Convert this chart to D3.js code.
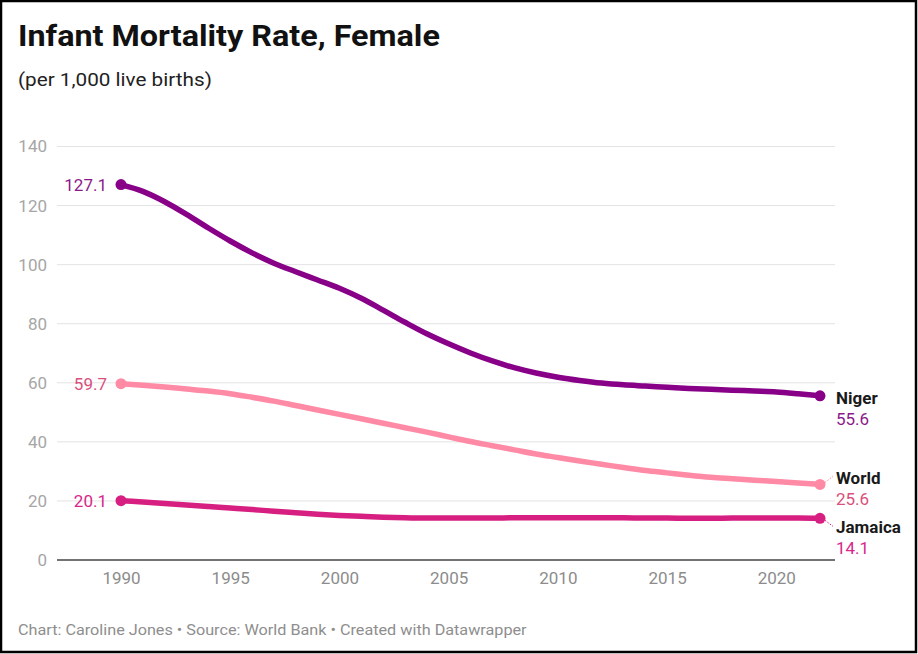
<!DOCTYPE html>
<html>
<head>
<meta charset="utf-8">
<script src="https://cdn.jsdelivr.net/npm/d3@7"></script>
<style>
  html, body { margin: 0; padding: 0; background: #fff; }
  svg { display: block; font-family: Roboto, "Noto Sans", sans-serif; }
</style>
</head>
<body>
<svg id="chart" width="918" height="654"></svg>
<script>
// Female infant mortality rate per 1,000 live births, World Bank
const years = d3.range(1990, 2023);
const niger = [127.1, 124.8, 121.3, 117.0, 112.4, 108.0, 104.0, 100.5, 97.6, 94.8,
  92.0, 88.6, 84.6, 80.5, 76.6, 73.2, 70.1, 67.4, 65.1, 63.3,
  61.9, 60.8, 59.9, 59.3, 58.9, 58.5, 58.1, 57.8, 57.5, 57.2,
  56.9, 56.3, 55.6];
const world = [59.7, 59.2, 58.6, 57.9, 57.2, 56.3, 55.1, 53.8, 52.3, 50.8,
  49.3, 47.8, 46.3, 44.8, 43.3, 41.7, 40.1, 38.7, 37.3, 35.9,
  34.7, 33.5, 32.4, 31.3, 30.3, 29.5, 28.7, 28.0, 27.5, 27.0,
  26.6, 26.1, 25.6];
const jamaica = [20.1, 19.6, 19.1, 18.6, 18.1, 17.6, 17.1, 16.5, 16.0, 15.5,
  15.1, 14.8, 14.5, 14.3, 14.2, 14.2, 14.2, 14.2, 14.3, 14.3,
  14.3, 14.3, 14.3, 14.3, 14.2, 14.2, 14.1, 14.1, 14.2, 14.2,
  14.2, 14.2, 14.1];
const yTicks = [0, 20, 40, 60, 80, 100, 120, 140];
const xTicks = [1990, 1995, 2000, 2005, 2010, 2015, 2020];

const series = [
  { name: "World",   values: world,   line: "#ff8aa5", text: "#d9507c", nameDy: 0,    leader: true },
  { name: "Jamaica", values: jamaica, line: "#d61f80", text: "#d8278a", nameDy: 14.5, leader: true },
  { name: "Niger",   values: niger,   line: "#870087", text: "#8a1a8a", nameDy: 8,    leader: false }
];

const svg = d3.select("#chart");
const W = 918, H = 654;

// outer frame
svg.append("rect").attr("x", 1).attr("y", 1).attr("width", W - 3).attr("height", H - 3)
  .attr("fill", "#fff").attr("stroke", "#000").attr("stroke-width", 2.5);

// text helper with slight horizontal widening
function wideText(g, x, y, sx) {
  return g.append("text").attr("transform", `translate(${x},${y}) scale(${sx},1)`);
}

// title block
wideText(svg, 18, 46, 1.115)
  .attr("font-size", 29).attr("font-weight", 700).attr("fill", "#111")
  .text("Infant Mortality Rate, Female");
wideText(svg, 18, 86, 1.09)
  .attr("font-size", 19).attr("fill", "#222")
  .text("(per 1,000 live births)");

const x = d3.scaleLinear().domain([1990, 2022]).range([121, 820]);
const y = d3.scaleLinear().domain([0, 140]).range([560, 146.5]);
const gridL = 57, gridR = 835;

// horizontal gridlines
svg.append("g").selectAll("line").data(yTicks.filter(d => d > 0)).join("line")
  .attr("x1", gridL).attr("x2", gridR)
  .attr("y1", d => y(d)).attr("y2", d => y(d))
  .attr("stroke", "#e3e3e3").attr("stroke-width", 1);

// y tick labels
svg.append("g").selectAll("text").data(yTicks).join("text")
  .attr("x", 47).attr("y", d => y(d)).attr("dy", "0.35em")
  .attr("text-anchor", "end").attr("font-size", 17).attr("fill", "#a6a6a6")
  .text(d => d);

// baseline
svg.append("line").attr("x1", gridL).attr("x2", gridR)
  .attr("y1", y(0)).attr("y2", y(0))
  .attr("stroke", "#444").attr("stroke-width", 1.5);

// x axis
const xAxis = svg.append("g").attr("transform", `translate(0,${y(0)})`)
  .call(d3.axisBottom(x).tickValues(xTicks).tickFormat(d3.format("d")).tickSize(0).tickPadding(12));
xAxis.select(".domain").remove();
xAxis.selectAll("text").attr("font-size", 17).attr("fill", "#8c8c8c")
  .attr("font-family", "Roboto, sans-serif");

const line = d3.line()
  .x((d, i) => x(years[i]))
  .y(d => y(d))
  .curve(d3.curveMonotoneX);

series.forEach(s => {
  svg.append("path").datum(s.values)
    .attr("d", line).attr("fill", "none")
    .attr("stroke", s.line).attr("stroke-width", 5.5)
    .attr("stroke-linecap", "round").attr("stroke-linejoin", "round");
  const first = s.values[0], last = s.values[s.values.length - 1];
  svg.append("circle").attr("cx", x(1990)).attr("cy", y(first)).attr("r", 5.5).attr("fill", s.line);
  svg.append("circle").attr("cx", x(2022)).attr("cy", y(last)).attr("r", 5.5).attr("fill", s.line);

  // start value label
  svg.append("text").attr("x", x(1990) - 14).attr("y", y(first)).attr("dy", "0.35em")
    .attr("text-anchor", "end").attr("font-size", 17).attr("fill", s.text)
    .text(first.toFixed(1));

  // end label: name + value
  const base = y(last) + s.nameDy;
  if (s.leader) {
    const up = s.nameDy < 5;
    svg.append("line")
      .attr("x1", x(2022) + 5).attr("y1", y(last) + (up ? -2 : 2))
      .attr("x2", x(2022) + 13).attr("y2", y(last) + (up ? -8 : 8))
      .attr("stroke", s.line).attr("stroke-width", 1).attr("stroke-dasharray", "1.5,1.5");
  }
  svg.append("text").attr("x", 836).attr("y", base)
    .attr("font-size", 17).attr("font-weight", 700).attr("fill", "#1a1a1a")
    .text(s.name);
  svg.append("text").attr("x", 836).attr("y", base + 21)
    .attr("font-size", 17).attr("fill", s.text)
    .text(last.toFixed(1));
});

// footer
wideText(svg, 18, 635, 1.08)
  .attr("font-size", 15).attr("fill", "#8e8e8e")
  .text("Chart: Caroline Jones \u2022 Source: World Bank \u2022 Created with Datawrapper");
</script>
</body>
</html>
